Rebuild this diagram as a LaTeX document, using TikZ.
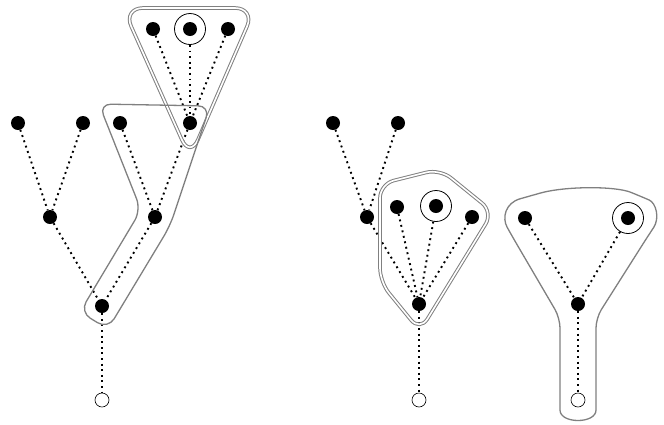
\documentclass[tikz,border=0pt]{standalone}
\usetikzlibrary{shapes.geometric}
\tikzstyle{vertex}=[circle, fill=black, inner sep=0pt, minimum size=14pt]
\tikzstyle{leaf}=[circle, draw=black, fill=white, line width=0.6pt, inner sep=0pt, minimum size=14pt]
\tikzstyle{ring}=[circle, draw=black, line width=0.8pt, inner sep=0pt, minimum size=31pt]
\tikzstyle{edge}=[line width=1.9pt, dash pattern=on 1.9pt off 3.7pt]
\tikzstyle{hull}=[draw=black!50, line width=1.3pt, rounded corners=12pt]
\tikzstyle{doublehull}=[draw=black!50, line width=1pt, double=white, double distance=1.6pt, rounded corners=14pt]

\begin{document}
\begin{tikzpicture}[x=1pt, y=-1pt]
          \useasboundingbox (0,0) rectangle (664,424);
          % left tree
          \node[vertex] (a1) at (153,29) {};
          \node[vertex] (a2) at (190,29) {};
          \node[ring] (a2r) at (a2) {};
          \node[vertex] (a3) at (228,29) {};
          \node[vertex] (b1) at (18,123) {};
          \node[vertex] (b2) at (83,123) {};
          \node[vertex] (b3) at (120,123) {};
          \node[vertex] (b4) at (190,123) {};
          \node[vertex] (c1) at (50,217) {};
          \node[vertex] (c2) at (155,217) {};
          \node[vertex] (d) at (102,306) {};
          \node[leaf] (e) at (102,400) {};
          % middle tree
          \node[vertex] (f1) at (333,123) {};
          \node[vertex] (f2) at (398,123) {};
          \node[vertex] (g) at (367,217) {};
          \node[vertex] (h1) at (397,207) {};
          \node[vertex] (h2) at (436,206) {};
          \node[ring] (h2r) at (h2) {};
          \node[vertex] (h3) at (472,217) {};
          \node[vertex] (i) at (419,304) {};
          \node[leaf] (j) at (419,400) {};
          % right tree
          \node[vertex] (k1) at (525,218) {};
          \node[vertex] (k2) at (628,218) {};
          \node[ring] (k2r) at (k2) {};
          \node[vertex] (l) at (578,304) {};
          \node[leaf] (m) at (578,400) {};

          \foreach \u/\v in {a1/b4, a2r/b4, a3/b4, b1/c1, b2/c1, b3/c2, b4/c2,
            c1/d, c2/d, d/e, f1/g, f2/g, g/i, h1/i, h2r/i, h3/i, i/j,
            k1/l, k2r/l, l/m}
            \draw[edge] (\u) -- (\v);

          % hulls
          \draw[doublehull, rounded corners=20pt] (123,8) -- (255,8) -- (190,158) -- cycle;
          \draw[hull] (99,104) -- (210,106) -- (170,226) -- (108,329)
            -- (80,312) -- (141,210) -- cycle;
          \draw[doublehull] (380,184) -- (440,169) -- (493,212) -- (420,331)
            -- (380,282) -- cycle;
          \draw[hull, rounded corners=10pt] (560,400) -- (560,318) -- (512,236)
            .. controls (502,218) and (505,203) .. (530,196)
            .. controls (565,186) and (615,186) .. (640,196)
            .. controls (656,203) and (660,218) .. (648,236)
            -- (596,318) -- (596,400)
            .. controls (596,424) and (560,424) .. cycle;
        \end{tikzpicture}
\end{document}
